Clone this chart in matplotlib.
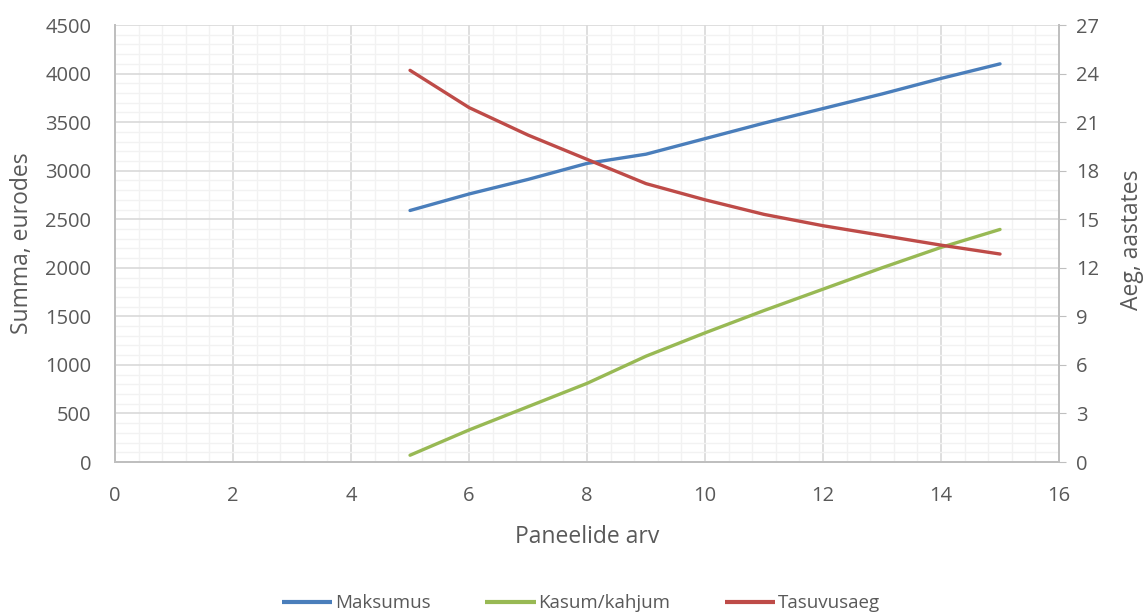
import matplotlib
matplotlib.use("Agg")
import matplotlib.pyplot as plt
from matplotlib.ticker import MultipleLocator

plt.rcParams['font.family'] = ['Open Sans', 'DejaVu Sans']

panels = [5, 6, 7, 8, 9, 10, 11, 12, 13, 14, 15]
maksumus = [2590, 2760, 2910, 3075, 3170, 3330, 3490, 3640, 3790, 3950, 4100]
kasum = [70, 330, 570, 810, 1090, 1330, 1560, 1780, 2000, 2210, 2395]
tasuvusaeg = [24.2, 21.9, 20.2, 18.7, 17.2, 16.2, 15.3, 14.6, 14.0, 13.4, 12.85]

text_col = '#595959'
major_col = '#D9D9D9'
minor_col = '#F2F2F2'
spine_col = '#BFBFBF'

W, H = 1147, 613
fig = plt.figure(figsize=(W / 100, H / 100), dpi=100)
ax = fig.add_axes([0.1003, 0.2463, 0.8230, 0.7129])
ax2 = ax.twinx()

ax.set_xlim(0, 16)
ax.set_ylim(0, 4500)
ax2.set_ylim(0, 27)

ax.xaxis.set_major_locator(MultipleLocator(2))
ax.xaxis.set_minor_locator(MultipleLocator(0.4))
ax.yaxis.set_major_locator(MultipleLocator(500))
ax.yaxis.set_minor_locator(MultipleLocator(100))
ax2.yaxis.set_major_locator(MultipleLocator(3))

ax.grid(which='minor', color=minor_col, linewidth=1.0)
ax.grid(which='major', color=major_col, linewidth=1.2)
ax.set_axisbelow(True)

l1, = ax.plot(panels, maksumus, color='#4A7EBB', linewidth=2.4, label='Maksumus',
              solid_capstyle='round')
l2, = ax.plot(panels, kasum, color='#98B954', linewidth=2.4, label='Kasum/kahjum',
              solid_capstyle='round')
l3, = ax2.plot(panels, tasuvusaeg, color='#BE4B48', linewidth=2.4, label='Tasuvusaeg',
               solid_capstyle='round')

for a in (ax, ax2):
    a.spines['top'].set_visible(False)
    for s in ('left', 'right', 'bottom'):
        a.spines[s].set_color(spine_col)
        a.spines[s].set_linewidth(1.3)

ax.tick_params(axis='both', which='both', length=0, labelsize=14.5, labelcolor=text_col)
ax.tick_params(axis='y', pad=17)
ax.tick_params(axis='x', pad=17)
ax2.tick_params(axis='y', which='major', length=5, color=spine_col, labelsize=14.5,
                labelcolor=text_col, pad=7)
ax2.tick_params(axis='y', which='minor', length=0)

# Axis titles placed by their centres in figure pixels
fig.text(587 / W, 1 - 537 / H, 'Paneelide arv', fontsize=16.5, color=text_col,
         ha='center', va='center')
fig.text(22 / W, 1 - 243 / H, 'Summa, eurodes', fontsize=16.5, color=text_col,
         ha='center', va='center', rotation=90)
fig.text(1132 / W, 1 - 240 / H, 'Aeg, aastates', fontsize=16.5, color=text_col,
         ha='center', va='center', rotation=90)

leg = fig.legend(handles=[l1, l2, l3], loc='center', bbox_to_anchor=(0.5065, 0.016),
                 ncol=3, frameon=False, fontsize=13.5, handlelength=2.7,
                 handletextpad=0.15, columnspacing=2.9, labelcolor=text_col)
for h in leg.legend_handles:
    h.set_linewidth(3.0)
    h.set_solid_capstyle('butt')

fig.savefig('out.png', dpi=100, facecolor='white')
